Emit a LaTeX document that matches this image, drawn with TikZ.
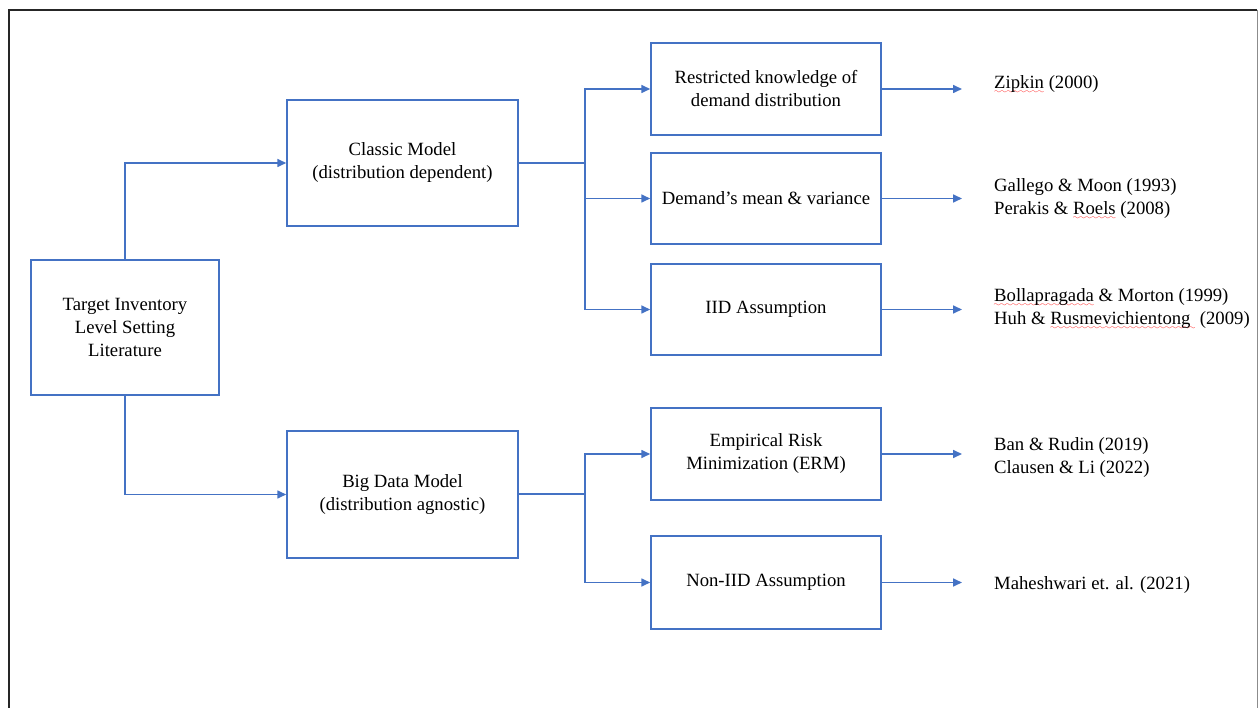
\documentclass[tikz,border=0pt]{standalone}
\usepackage{fontspec}
\setmainfont{Liberation Serif}
\usetikzlibrary{arrows.meta}
\font\redsixly=lasy6 at 7pt
\newcommand\redwave[1]{\setbox0\hbox{#1}\leavevmode\rlap{\textcolor{red}{\lower5pt\hbox to\wd0{\xleaders\hbox{\redsixly\char58}\hfil}}}\box0\relax}
\definecolor{boxblue}{HTML}{4472C4}
\tikzset{
  box/.style={draw=boxblue, line width=1.5pt, fill=white, align=center, inner sep=0pt,
    font=\fontsize{18.7}{23}\selectfont},
  ref/.style={anchor=west, align=left, inner sep=0pt, font=\fontsize{18.7}{23}\selectfont},
  conn/.style={draw=boxblue, line width=1.6pt},
  arr/.style={conn, -{Triangle[length=9pt,width=8pt]}}
}
\begin{document}
\begin{tikzpicture}[x=1pt,y=-1pt]
\useasboundingbox (0,0) rectangle (1258,708);
% frame
\draw[line width=2.2pt, black!85] (9,712) -- (9,10) -- (1257,10);
\draw[line width=1pt, black!45] (1257,10) -- (1257,712);

% boxes
\node[box, minimum width=188pt, minimum height=135pt] (root) at (125,327.5) {Target Inventory\\Level Setting\\Literature};
\node[box, minimum width=231pt, minimum height=126pt] (classic) at (402.5,163) {Classic Model\\(distribution dependent)};
\node[box, minimum width=231pt, minimum height=127pt] (bigdata) at (402.5,494.5) {Big Data Model\\(distribution agnostic)};
\node[box, minimum width=230pt, minimum height=92pt] (restricted) at (766,89) {Restricted knowledge of\\demand distribution};
\node[box, minimum width=230pt, minimum height=91pt] (demand) at (766,198.5) {Demand’s mean \& variance};
\node[box, minimum width=230pt, minimum height=91pt] (iid) at (766,309.5) {IID Assumption};
\node[box, minimum width=230pt, minimum height=92pt] (erm) at (766,454) {Empirical Risk\\Minimization (ERM)};
\node[box, minimum width=230pt, minimum height=93pt] (noniid) at (766,582.5) {Non-IID Assumption};

% references
\node[ref] (r1) at (994,85) {\redwave{Zipkin} (2000)};
\node[ref] (r2) at (994,199) {Gallego \& Moon (1993)\\Perakis \& \redwave{Roels} (2008)};
\node[ref] (r3) at (994,309) {\redwave{Bollapragada} \& Morton (1999)\\Huh \& \redwave{Rusmevichientong\ }\ (2009)};
\node[ref] (r4) at (994,458) {Ban \& Rudin (2019)\\Clausen \& Li (2022)};
\node[ref] (r5) at (994,585) {Maheshwari et. al. (2021)};

% connectors
\draw[arr] (root.north) |- (classic.west);
\draw[arr] (root.south) |- (bigdata.west);

\coordinate (j1) at (585,163);
\coordinate (j2) at (585,494);
\draw[conn] (classic.east |- j1) -- (j1);
\draw[arr] (j1) |- (restricted.west);
\draw[arr] (j1) |- (demand.west);
\draw[arr] (j1) |- (iid.west);
\draw[conn] (bigdata.east |- j2) -- (j2);
\draw[arr] (j2) |- (erm.west);
\draw[arr] (j2) |- (noniid.west);

\coordinate (e1) at (962,89);
\coordinate (e2) at (962,198.5);
\coordinate (e3) at (962,309.5);
\coordinate (e4) at (962,454);
\coordinate (e5) at (962,582.5);
\draw[arr] (restricted.east) -- (e1);
\draw[arr] (demand.east) -- (e2);
\draw[arr] (iid.east) -- (e3);
\draw[arr] (erm.east) -- (e4);
\draw[arr] (noniid.east) -- (e5);
\end{tikzpicture}
\end{document}
